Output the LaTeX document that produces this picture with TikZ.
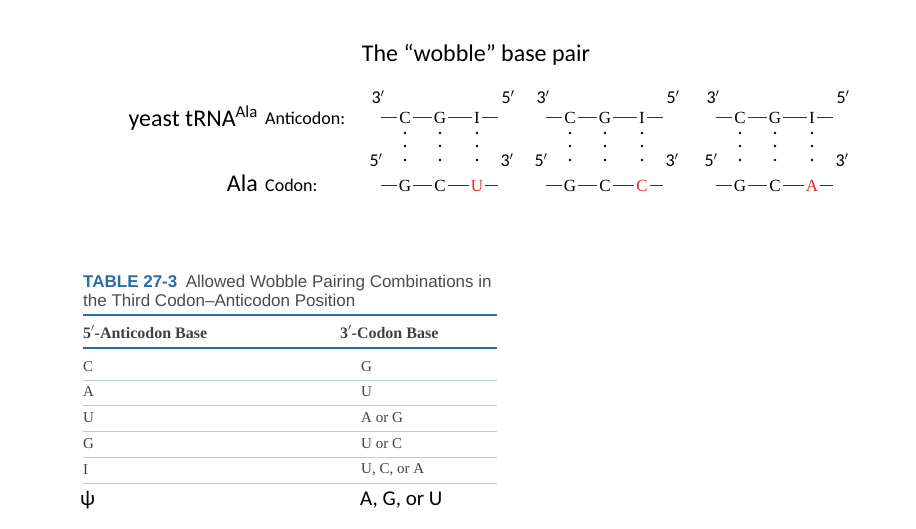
\documentclass[tikz,border=0pt]{standalone}
\usepackage{fontspec}
\setmainfont{Liberation Serif}
\setsansfont{Carlito}
\newfontfamily\helv{Liberation Sans}
\usetikzlibrary{positioning}
\definecolor{tblblue}{RGB}{40,110,170}
\definecolor{rowline}{RGB}{190,205,220}
\definecolor{wobred}{RGB}{220,40,40}
\tikzset{base/.style={font=\fontsize{17}{17}\selectfont,inner xsep=2pt,inner ysep=0pt,text height=12pt,text depth=0pt},
         prime/.style={font=\sffamily\fontsize{18}{18}\selectfont,inner sep=0pt},
         bond/.style={thick,black!80},
         pairdot/.style={fill,circle,inner sep=1pt},
         cell/.style={anchor=west,inner sep=0pt,font=\fontsize{15}{15}\selectfont,text=black!75}
}
\begin{document}
\begin{tikzpicture}[x=1pt,y=1pt]
  \useasboundingbox[fill=white](0,0)rectangle(916,-528);
  \node[font=\sffamily\fontsize{24}{24}\selectfont] (title) at (476,-55) {The “wobble” base pair};
  \node[anchor=east,font=\sffamily\fontsize{24}{24}\selectfont,inner sep=0pt] (trna) at (258,-118) {yeast tRNA\textsuperscript{Ala}};
  \node[anchor=west,font=\sffamily\fontsize{18}{18}\selectfont,inner sep=0pt] (anti) at (265,-118) {Anticodon:};
  \node[anchor=east,font=\sffamily\fontsize{24}{24}\selectfont,inner sep=0pt] (ala) at (258,-183) {Ala};
  \node[anchor=west,font=\sffamily\fontsize{18}{18}\selectfont,inner sep=0pt] (codon) at (265,-185) {Codon:};
  % three codon/anticodon pairs
  \foreach\g/\dx/\wob in {a/0/U,b/165/C,c/335/A} {
    \begin{scope}[xshift=\dx]
      \node[base] (\g C1) at (405,-117) {C};
      \node[base] (\g G1) at (440,-117) {G};
      \node[base] (\g I1) at (477,-117) {I};
      \node[base] (\g G2) at (405,-185) {G};
      \node[base] (\g C2) at (440,-185) {C};
      \node[base,text=wobred] (\g W2) at (477,-185) {\wob};
      \coordinate (\g L1) at (381,-117); \coordinate (\g R1) at (498,-117);
      \coordinate (\g L2) at (381,-185); \coordinate (\g R2) at (498,-185);
      \draw[bond] (\g L1) -- (\g C1) -- (\g G1) -- (\g I1) -- (\g R1);
      \draw[bond] (\g L2) -- (\g G2) -- (\g C2) -- (\g W2) -- (\g R2);
      \node[prime] (\g p3a) at (378,-97) {3$'$};
      \node[prime] (\g p5a) at (508,-97) {5$'$};
      \node[prime] (\g p5b) at (376,-160) {5$'$};
      \node[prime] (\g p3b) at (507,-160) {3$'$};
      \foreach\x in {405,440,477}
        \foreach\y in {-133,-146,-160}
          \node[pairdot] at (\x,\y) {};
    \end{scope}
  }
  % table
  \node[anchor=west,inner sep=0pt,font=\helv\fontsize{17}{17}\selectfont,text=black!70] (tcap) at (83,-283)
    {\textcolor{tblblue}{\bfseries TABLE 27-3}\enspace Allowed Wobble Pairing Combinations in};
  \node[anchor=west,inner sep=0pt,font=\helv\fontsize{17}{17}\selectfont,text=black!70] (tcap2) at (83,-300)
    {the Third Codon–Anticodon Position};
  \draw[tblblue,line width=2.5pt] (83,-315) -- (497,-315);
  \node[cell,font=\bfseries\fontsize{16}{16}\selectfont] (h1) at (83,-332) {5$'$-Anticodon Base};
  \node[cell,font=\bfseries\fontsize{16}{16}\selectfont] (h2) at (340,-332) {3$'$-Codon Base};
  \draw[tblblue,line width=1.2pt] (83,-348) -- (497,-348);
  \foreach\a/\b/\y in {C/G/-367,A/U/-392,U/A or G/-418,G/U or C/-444,I/{U, C, or A}/-470} {
    \node[cell] at (83,\y) {\a};
    \node[cell] at (361,\y) {\b};
    \draw[rowline,line width=1pt] (83,\y-13) -- (497,\y-13);
  }
  \node[cell,font=\sffamily\fontsize{21}{21}\selectfont,text=black] (psi) at (80,-500) {ψ};
  \node[cell,font=\sffamily\fontsize{21}{21}\selectfont,text=black] (psib) at (360,-500) {A, G, or U};
\end{tikzpicture}
\end{document}
